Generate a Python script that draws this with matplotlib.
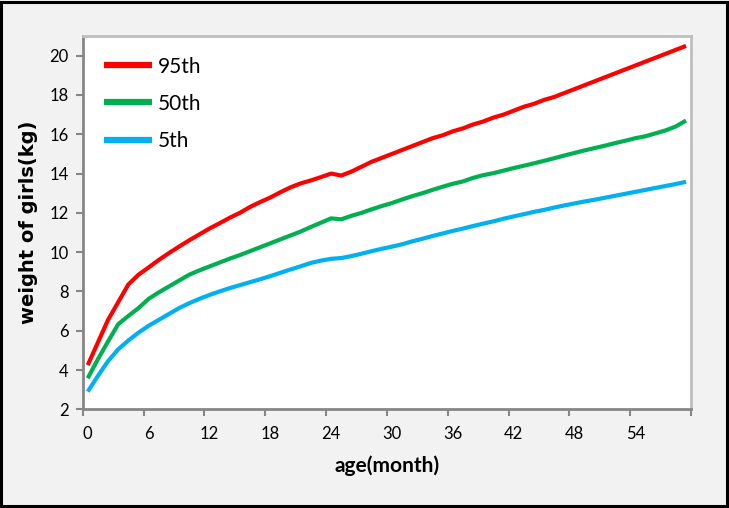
import matplotlib
matplotlib.use("Agg")
import matplotlib.pyplot as plt
from matplotlib.patches import Rectangle

months = list(range(60))
p95 = [4.25, 5.4, 6.55, 7.45, 8.35, 8.85, 9.22, 9.6, 9.95, 10.28,
       10.6, 10.9, 11.2, 11.47, 11.75, 12.0, 12.3, 12.55, 12.78, 13.05,
       13.3, 13.5, 13.65, 13.82, 14.0, 13.9, 14.1, 14.35, 14.6, 14.8,
       15.0, 15.2, 15.4, 15.6, 15.8, 15.95, 16.15, 16.3, 16.5, 16.65,
       16.85, 17.0, 17.2, 17.4, 17.55, 17.75, 17.9, 18.1, 18.3, 18.5,
       18.7, 18.9, 19.1, 19.3, 19.5, 19.7, 19.9, 20.1, 20.3, 20.5]
p50 = [3.58, 4.55, 5.45, 6.33, 6.75, 7.15, 7.62, 7.95, 8.25, 8.55,
       8.85, 9.07, 9.27, 9.47, 9.67, 9.85, 10.05, 10.25, 10.45, 10.65,
       10.85, 11.05, 11.28, 11.5, 11.72, 11.67, 11.85, 12.0, 12.18, 12.35,
       12.5, 12.68, 12.85, 13.0, 13.17, 13.33, 13.48, 13.6, 13.78, 13.92,
       14.02, 14.15, 14.28, 14.4, 14.52, 14.65, 14.78, 14.92, 15.05, 15.18,
       15.3, 15.42, 15.55, 15.67, 15.8, 15.9, 16.05, 16.2, 16.4, 16.7]
p5 = [2.9, 3.7, 4.45, 5.05, 5.5, 5.9, 6.25, 6.55, 6.85, 7.15,
      7.4, 7.62, 7.82, 8.0, 8.17, 8.32, 8.47, 8.62, 8.78, 8.95,
      9.12, 9.28, 9.45, 9.57, 9.66, 9.7, 9.8, 9.92, 10.05, 10.17,
      10.28, 10.4, 10.55, 10.68, 10.82, 10.95, 11.08, 11.2, 11.33, 11.45,
      11.57, 11.7, 11.82, 11.93, 12.05, 12.15, 12.27, 12.38, 12.48, 12.58,
      12.67, 12.77, 12.87, 12.97, 13.07, 13.17, 13.27, 13.37, 13.47, 13.58]

series_labels = ["95th", "50th", "5th"]
series_colors = ["#FF0000", "#00B050", "#00B0F0"]
xtick_labels = [0, 6, 12, 18, 24, 30, 36, 42, 48, 54]
ytick_values = [2, 4, 6, 8, 10, 12, 14, 16, 18, 20]

plt.rcParams['font.family'] = ['Lato', 'DejaVu Sans']

fig = plt.figure(figsize=(7.29, 5.08), dpi=100)
fig.patch.set_facecolor("#F2F2F2")
fig.patches.append(Rectangle((0.002, 0.003), 0.995, 0.994, transform=fig.transFigure,
                             fill=False, edgecolor="black", linewidth=2.2))

ax = fig.add_axes([0.1134, 0.1943, 0.8346, 0.7347])
ax.set_facecolor("white")

for vals, lab, col in zip([p95, p50, p5], series_labels, series_colors):
    ax.plot(months, vals, color=col, linewidth=3.0, label=lab, solid_capstyle="butt")

ax.set_xlim(-0.5, 59.5)
ax.set_ylim(2, 21)

ax.set_xticks(xtick_labels)
ax.set_xticklabels([str(v) for v in xtick_labels])
ax.set_xticks([v - 0.5 for v in range(0, 61, 6)], minor=True)
ax.tick_params(axis="x", which="major", length=0, pad=12, labelsize=12, colors="black")
ax.tick_params(axis="x", which="minor", length=5, width=1.5, color="#868686", direction="out")

ax.set_yticks(ytick_values)
ax.tick_params(axis="y", which="major", length=5, width=1.5, color="#868686", pad=5,
               labelsize=12, labelcolor="black")

for side in ["left", "bottom"]:
    ax.spines[side].set_color("#868686")
    ax.spines[side].set_linewidth(2.0)
for side in ["top", "right"]:
    ax.spines[side].set_color("#BFBFBF")
    ax.spines[side].set_linewidth(2.0)

ax.set_xlabel("age(month)", fontsize=15, fontweight="bold", labelpad=10)
ax.set_ylabel("weight of girls(kg)", fontsize=14, fontweight="bold", labelpad=8,
              family=["DejaVu Sans"])

leg = ax.legend(loc="upper left", bbox_to_anchor=(0.005, 0.995), frameon=False,
                fontsize=15, handlelength=2.3, handletextpad=0.25, labelspacing=0.82)
for line in leg.get_lines():
    line.set_linewidth(4.5)

fig.savefig("out.png", dpi=100, facecolor=fig.get_facecolor())
